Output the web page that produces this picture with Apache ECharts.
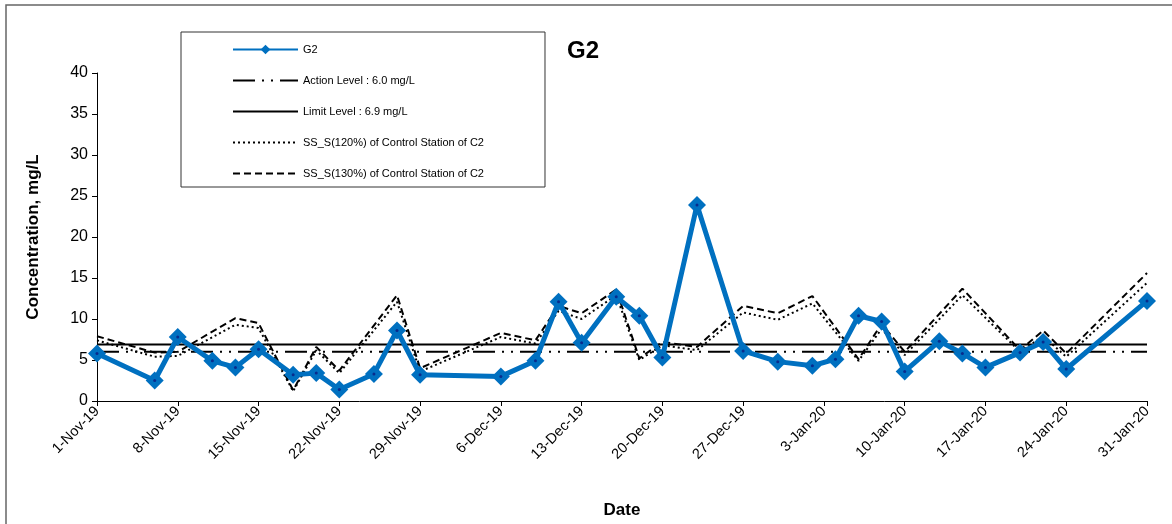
<!DOCTYPE html>
<html>
<head>
<meta charset="utf-8">
<script src="https://cdn.jsdelivr.net/npm/echarts@6/dist/echarts.min.js"></script>
<style>
  html, body { margin: 0; padding: 0; background: #fff; }
  #main { width: 1172px; height: 524px; }
</style>
</head>
<body>
<div id="main"></div>
<script>
var startDate = '2019-11-01';
var endDate = '2020-01-31';
var monthNames = ['Jan', 'Feb', 'Mar', 'Apr', 'May', 'Jun', 'Jul', 'Aug', 'Sep', 'Oct', 'Nov', 'Dec'];

// G2 measurements
var g2Dates = ['2019-11-01', '2019-11-06', '2019-11-08', '2019-11-11', '2019-11-13', '2019-11-15',
    '2019-11-18', '2019-11-20', '2019-11-22', '2019-11-25', '2019-11-27', '2019-11-29',
    '2019-12-06', '2019-12-09', '2019-12-11', '2019-12-13', '2019-12-16', '2019-12-18',
    '2019-12-20', '2019-12-23', '2019-12-27', '2019-12-30', '2020-01-02', '2020-01-04',
    '2020-01-06', '2020-01-08', '2020-01-10', '2020-01-13', '2020-01-15', '2020-01-17',
    '2020-01-20', '2020-01-22', '2020-01-24', '2020-01-31'];
var g2Values = [5.8, 2.5, 7.8, 4.9, 4.1, 6.3, 3.2, 3.4, 1.4, 3.3, 8.6, 3.2,
    3.0, 4.9, 12.1, 7.1, 12.7, 10.4, 5.3, 23.9, 6.1, 4.8, 4.3, 5.1,
    10.4, 9.7, 3.6, 7.3, 5.8, 4.1, 5.9, 7.2, 3.9, 12.2];

// control station C2
var ctrlDates = ['2019-11-01', '2019-11-06', '2019-11-08', '2019-11-13', '2019-11-15', '2019-11-18',
    '2019-11-20', '2019-11-22', '2019-11-27', '2019-11-29', '2019-12-06', '2019-12-09',
    '2019-12-11', '2019-12-13', '2019-12-16', '2019-12-18', '2019-12-20', '2019-12-23',
    '2019-12-27', '2019-12-30', '2020-01-02', '2020-01-06', '2020-01-08', '2020-01-10',
    '2020-01-15', '2020-01-20', '2020-01-22', '2020-01-24', '2020-01-31'];
var ss120 = [7.4, 5.4, 5.5, 9.3, 8.9, 1.2, 6.2, 3.4, 12.1, 3.6, 7.8, 7.0,
    11.0, 10.0, 12.9, 5.0, 6.8, 6.2, 10.8, 9.9, 11.9, 4.9, 8.8, 5.6,
    12.9, 6.0, 7.9, 5.4, 14.4];
var ss130 = [7.9, 5.9, 6.0, 10.1, 9.5, 1.3, 6.6, 3.7, 12.9, 4.0, 8.3, 7.4,
    11.6, 10.7, 13.6, 5.2, 7.2, 6.6, 11.6, 10.7, 12.8, 5.1, 9.4, 6.0,
    13.7, 6.2, 8.6, 5.8, 15.6];

var actionLevel = 6.0;
var limitLevel = 6.9;

var dayMs = 24 * 3600 * 1000;
var t0 = Date.parse(startDate + 'T00:00:00Z');
function dayNo(s) {
    return Math.round((Date.parse(s + 'T00:00:00Z') - t0) / dayMs);
}
function dayLabel(v) {
    var d = new Date(t0 + v * dayMs);
    return d.getUTCDate() + '-' + monthNames[d.getUTCMonth()] + '-' + String(d.getUTCFullYear()).slice(2);
}
function pairs(dates, vals) {
    var out = [];
    for (var i = 0; i < dates.length; i++) {
        out.push([dayNo(dates[i]), vals[i]]);
    }
    return out;
}
var lastDay = dayNo(endDate);

var noDot = { opacity: 0 };

var myChart = echarts.init(document.getElementById('main'));
var option = {
    animation: false,
    textStyle: { fontFamily: 'Liberation Sans, Arial, sans-serif' },
    title: {
        text: 'G2',
        left: 562,
        top: 34,
        textStyle: { fontSize: 24, fontWeight: 'bold', color: '#000' }
    },
    graphic: [{
        type: 'rect',
        shape: { x: 6, y: 5, width: 1200, height: 600 },
        style: { fill: 'none', stroke: '#666', lineWidth: 1.5 },
        silent: true
    }],
    legend: {
        orient: 'vertical',
        left: 181,
        top: 32,
        padding: [12, 61, 8, 51],
        itemWidth: 65,
        itemHeight: 12,
        itemGap: 20,
        borderColor: '#333',
        borderWidth: 1,
        textStyle: { fontSize: 11, color: '#000' },
        data: [
            { name: 'G2' },
            { name: 'Action Level : 6.0 mg/L', itemStyle: noDot },
            { name: 'Limit Level : 6.9 mg/L', itemStyle: noDot },
            { name: 'SS_S(120%) of Control Station of C2', itemStyle: noDot },
            { name: 'SS_S(130%) of Control Station of C2', itemStyle: noDot }
        ]
    },
    grid: { left: 97, right: 25, top: 73, bottom: 123 },
    xAxis: {
        type: 'value',
        min: 0,
        max: lastDay,
        interval: 7,
        name: 'Date',
        nameLocation: 'middle',
        nameGap: 101,
        nameTextStyle: { fontSize: 17, fontWeight: 'bold', color: '#000' },
        axisLine: { lineStyle: { color: '#000', width: 1 } },
        axisTick: { show: true, length: 5, lineStyle: { color: '#000' } },
        splitLine: { show: false },
        axisLabel: {
            rotate: 45,
            fontSize: 14.5,
            color: '#000',
            margin: 8,
            formatter: function (v) { return dayLabel(v); }
        }
    },
    yAxis: {
        type: 'value',
        min: 0,
        max: 40,
        interval: 5,
        name: 'Concentration, mg/L',
        nameLocation: 'middle',
        nameGap: 55,
        nameTextStyle: { fontSize: 17, fontWeight: 'bold', color: '#000' },
        axisLine: { show: true, lineStyle: { color: '#000', width: 1 } },
        axisTick: { show: true, length: 5, lineStyle: { color: '#000' } },
        splitLine: { show: false },
        axisLabel: { fontSize: 16, color: '#000', margin: 9 }
    },
    series: [
        {
            name: 'Action Level : 6.0 mg/L',
            type: 'line',
            data: [[0, actionLevel], [lastDay, actionLevel]],
            symbol: 'none',
            color: '#000',
            lineStyle: { color: '#000', width: 2, type: [22, 7, 2, 7, 2, 7] },
            z: 2
        },
        {
            name: 'Limit Level : 6.9 mg/L',
            type: 'line',
            data: [[0, limitLevel], [lastDay, limitLevel]],
            symbol: 'none',
            color: '#000',
            lineStyle: { color: '#000', width: 2, type: 'solid' },
            z: 2
        },
        {
            name: 'SS_S(120%) of Control Station of C2',
            type: 'line',
            data: pairs(ctrlDates, ss120),
            symbol: 'none',
            color: '#000',
            lineStyle: { color: '#000', width: 2, type: [2, 3] },
            z: 3
        },
        {
            name: 'SS_S(130%) of Control Station of C2',
            type: 'line',
            data: pairs(ctrlDates, ss130),
            symbol: 'none',
            color: '#000',
            lineStyle: { color: '#000', width: 2, type: [7, 4] },
            z: 3
        },
        {
            name: 'G2',
            type: 'line',
            data: pairs(g2Dates, g2Values),
            symbol: 'diamond',
            symbolSize: 18,
            color: '#0070C0',
            itemStyle: { color: '#0070C0' },
            lineStyle: { color: '#0070C0', width: 5 },
            z: 5
        },
        {
            // small centre dots on the markers
            name: 'G2dot',
            type: 'scatter',
            data: pairs(g2Dates, g2Values),
            symbol: 'circle',
            symbolSize: 3,
            itemStyle: { color: '#0A1A80' },
            z: 6,
            silent: true
        }
    ]
};
myChart.setOption(option);
</script>
</body>
</html>
